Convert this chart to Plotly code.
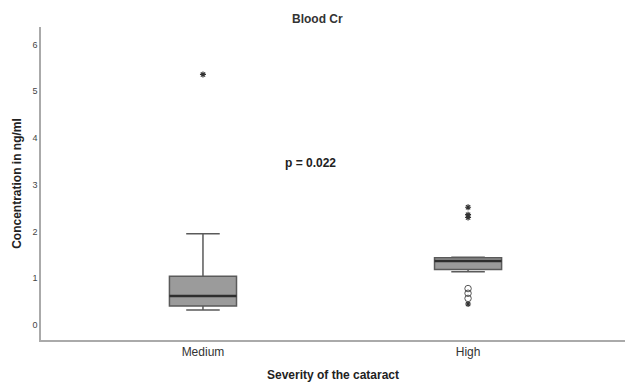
import plotly.graph_objects as go

# Data
categories = ["Medium", "High"]
q1 = [0.405, 1.19]
median = [0.62, 1.37]
q3 = [1.045, 1.44]
lower_fence = [0.32, 1.14]
upper_fence = [1.955, 1.45]

# outliers: (category index, value)
star_cat = [0, 1, 1, 1, 1]
star_val = [5.36, 2.52, 2.36, 2.30, 0.45]
circle_cat = [1, 1, 1]
circle_val = [0.78, 0.68, 0.57]

y_ticks = [0, 1, 2, 3, 4, 5, 6]
title_text = "Blood Cr"
p_text = "p = 0.022"

xpos = list(range(len(categories)))
box_w = 0.253

FONT = "Liberation Sans, Arial, sans-serif"
W, H = 625, 388
ML, MR, MT, MB = 41, 0, 27, 48

fig = go.Figure()
fig.add_trace(go.Box(
    x=xpos, q1=q1, median=median, q3=q3,
    lowerfence=lower_fence, upperfence=upper_fence,
    width=box_w, whiskerwidth=0.5,
    fillcolor="#9b9b9b", line=dict(color="#5a5a5a", width=1.5),
    boxpoints=False, showlegend=False, hoverinfo="skip",
))
# darker median lines
for i, m in zip(xpos, median):
    fig.add_trace(go.Scatter(
        x=[i - box_w / 2, i + box_w / 2], y=[m, m], mode="lines",
        line=dict(color="#2e2e2e", width=2.5), showlegend=False, hoverinfo="skip"))

fig.add_trace(go.Scatter(
    x=star_cat, y=star_val, mode="markers",
    marker=dict(symbol="asterisk-open", size=5, color="#333333",
                line=dict(color="#333333", width=1.2)),
    showlegend=False, hoverinfo="skip"))
fig.add_trace(go.Scatter(
    x=circle_cat, y=circle_val, mode="markers",
    marker=dict(symbol="circle-open", size=6.5, color="#555555",
                line=dict(color="#555555", width=1)),
    showlegend=False, hoverinfo="skip"))

pw = W - ML - MR
ph = H - MT - MB


def px_to_paper(x, y):
    return (x - ML) / pw, (H - y - MB) / ph


tx, ty = px_to_paper(317, 19)
px_, py_ = px_to_paper(310, 163)

fig.update_layout(
    width=W, height=H,
    margin=dict(l=ML, r=MR, t=MT, b=MB, autoexpand=False),
    paper_bgcolor="white", plot_bgcolor="white",
    font=dict(family=FONT, color="#333333"),
    xaxis=dict(
        range=[-0.611, 1.592], tickvals=xpos, ticktext=categories,
        showgrid=False, zeroline=False, showline=True,
        linecolor="#aaaaaa", linewidth=2, ticks="",
        tickfont=dict(size=12, color="#333333"),
        title=dict(text="<b>Severity of the cataract</b>", font=dict(size=12, color="#222222"),
                   standoff=12),
    ),
    yaxis=dict(
        range=[-0.32, 6.375], tickvals=y_ticks,
        showgrid=False, zeroline=False, showline=True,
        linecolor="#aaaaaa", linewidth=1.5, ticks="",
        tickfont=dict(size=9, color="#444444"),
        title=dict(text="<b>Concentration in ng/ml</b>", font=dict(size=12, color="#222222"),
                   standoff=8),
    ),
    annotations=[
        dict(text="<b>" + title_text + "</b>", x=tx, y=ty, xref="paper", yref="paper",
             xanchor="center", yanchor="middle", showarrow=False,
             font=dict(size=12, color="#333333")),
        dict(text="<b>" + p_text + "</b>", x=px_, y=py_, xref="paper", yref="paper",
             xanchor="center", yanchor="middle", showarrow=False,
             font=dict(size=12, color="#222222")),
    ],
)

fig.write_html("out.html", config={"displayModeBar": False},
               post_script="document.body.style.margin='0';document.body.style.overflow='hidden';")
